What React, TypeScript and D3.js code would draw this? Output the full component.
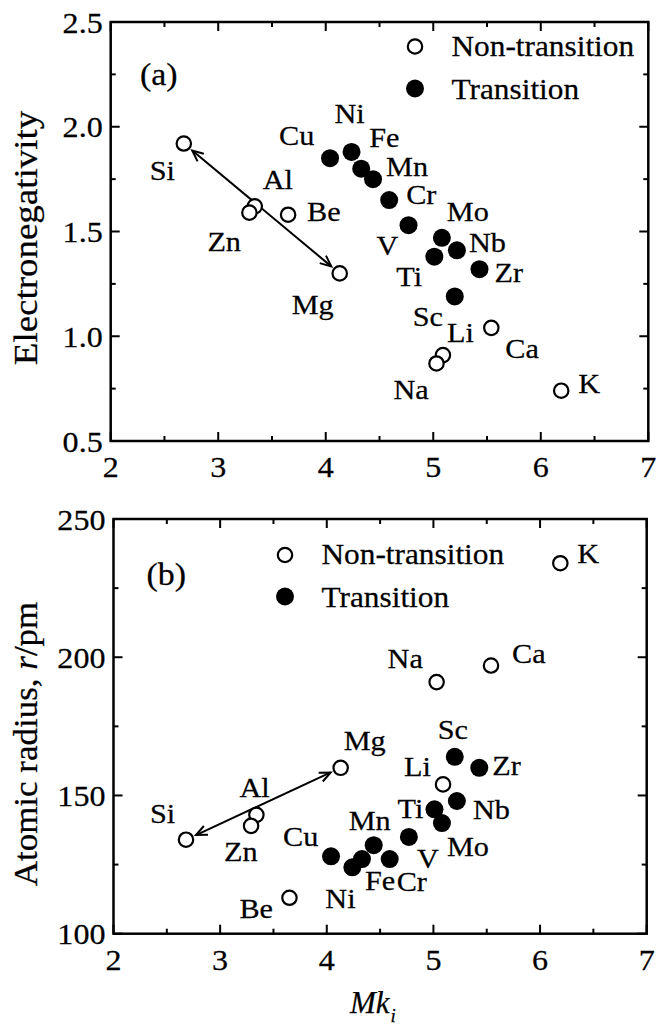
import React from 'react';
import * as d3 from 'd3';

// Element data: Mk_i, Pauling-type electronegativity and atomic radius (pm)
const elements = ['Si', 'Al', 'Zn', 'Be', 'Mg', 'Li', 'Na', 'K', 'Ca', 'Cu', 'Ni', 'Fe', 'Mn', 'Cr', 'V', 'Mo', 'Nb', 'Ti', 'Zr', 'Sc'];
const transition = [false, false, false, false, false, false, false, false, false, true, true, true, true, true, true, true, true, true, true, true];
const mk = [2.68, 3.34, 3.29, 3.65, 4.13, 5.09, 5.03, 6.19, 5.54, 4.04, 4.24, 4.33, 4.44, 4.59, 4.77, 5.08, 5.22, 5.01, 5.43, 5.20];
const electronegativity = [1.92, 1.62, 1.59, 1.58, 1.30, 0.91, 0.87, 0.74, 1.04, 1.85, 1.88, 1.80, 1.75, 1.65, 1.53, 1.47, 1.41, 1.38, 1.32, 1.19];
const atomicRadius = [134, 143, 139, 113, 160, 154, 191, 234, 197, 128, 124, 127, 132, 127, 135, 140, 148, 145, 160, 164];

const xTicks = [2, 3, 4, 5, 6, 7];
const enTicks = [0.5, 1.0, 1.5, 2.0, 2.5];
const radiusTicks = [100, 150, 200, 250];
const legendLabels = ['Non-transition', 'Transition'];

// label offsets (px) from each marker, per panel
const enLabelOffset: Record<string, [number, number]> = {
  Si: [-34, 36], Al: [8, -17], Zn: [-42, 38], Be: [19, 6], Mg: [-48, 41],
  Li: [4, -13], Na: [-43, 36], K: [17, 2], Ca: [14, 30], Cu: [-51, -13],
  Ni: [-17, -29], Fe: [8, -22], Mn: [13, -3], Cr: [17, 4], V: [-32, 30],
  Mo: [5, -17], Nb: [12, 2], Ti: [-38, 29], Zr: [15, 13], Sc: [-42, 30],
};
const radiusLabelOffset: Record<string, [number, number]> = {
  Si: [-36, -17], Al: [-17, -18], Zn: [-27, 35], Be: [-50, 20], Mg: [3, -18],
  Li: [-39, -8], Na: [-49, -14], K: [17, 0], Ca: [21, -3], Cu: [-48, -10],
  Ni: [-27, 41], Fe: [3, 31], Mn: [-25, -15], Cr: [7, 32], V: [8, 31],
  Mo: [5, 33], Nb: [16, 18], Ti: [-37, 9], Zr: [13, 7], Sc: [-17, -18],
};

const FONT = '"Liberation Serif", "Times New Roman", serif';
const SX = 1.08;

function T({ x, y, children, size = 29, anchor = 'start', rotate = 0, sx = SX }: any) {
  return (
    <text
      transform={`translate(${x},${y}) rotate(${rotate}) scale(${sx},1)`}
      fontFamily={FONT}
      fontSize={size}
      textAnchor={anchor}
      fill="#000"
      stroke="#000"
      strokeWidth={0.25}
    >
      {children}
    </text>
  );
}

function Arrow({ x1, y1, x2, y2 }: any) {
  const dx = x2 - x1;
  const dy = y2 - y1;
  const len = Math.hypot(dx, dy);
  const ux = dx / len;
  const uy = dy / len;
  const gap = 11;
  const ax = x1 + ux * gap, ay = y1 + uy * gap;
  const bx = x2 - ux * gap, by = y2 - uy * gap;
  const head = (tx: number, ty: number, dirx: number, diry: number) => {
    const L = 12, a = (24 * Math.PI) / 180;
    const ang = Math.atan2(diry, dirx);
    const p1 = [tx - L * Math.cos(ang - a), ty - L * Math.sin(ang - a)];
    const p2 = [tx - L * Math.cos(ang + a), ty - L * Math.sin(ang + a)];
    return `M${p1[0]},${p1[1]}L${tx},${ty}L${p2[0]},${p2[1]}`;
  };
  return (
    <g fill="none" stroke="#000" strokeWidth={2}>
      <line x1={ax} y1={ay} x2={bx} y2={by} />
      <path d={head(ax, ay, -ux, -uy)} />
      <path d={head(bx, by, ux, uy)} />
    </g>
  );
}

function Panel({ box, yDomain, yTicks, yMinor, yFmt, values, offsets, tag, legend, yTitle }: any) {
  const x = d3.scaleLinear().domain([2, 7]).range([box.left, box.right]);
  const y = d3.scaleLinear().domain(yDomain).range([box.bottom, box.top]);
  const xMinor = d3.range(2.5, 7, 1);
  const major = 9, minor = 5;
  const iSi = elements.indexOf('Si');
  const iMg = elements.indexOf('Mg');
  return (
    <g>
      {/* frame */}
      <rect x={box.left} y={box.top} width={box.right - box.left} height={box.bottom - box.top}
        fill="none" stroke="#000" strokeWidth={2.5} />
      {/* ticks on all four sides, pointing inward */}
      <g stroke="#000" strokeWidth={2}>
        {xTicks.map((t) => (
          <g key={'xt' + t}>
            <line x1={x(t)} x2={x(t)} y1={box.bottom} y2={box.bottom - major} />
            <line x1={x(t)} x2={x(t)} y1={box.top} y2={box.top + major} />
          </g>
        ))}
        {xMinor.map((t) => (
          <g key={'xm' + t}>
            <line x1={x(t)} x2={x(t)} y1={box.bottom} y2={box.bottom - minor} />
            <line x1={x(t)} x2={x(t)} y1={box.top} y2={box.top + minor} />
          </g>
        ))}
        {yTicks.map((t: number) => (
          <g key={'yt' + t}>
            <line x1={box.left} x2={box.left + major} y1={y(t)} y2={y(t)} />
            <line x1={box.right} x2={box.right - major} y1={y(t)} y2={y(t)} />
          </g>
        ))}
        {yMinor.map((t: number) => (
          <g key={'ym' + t}>
            <line x1={box.left} x2={box.left + minor} y1={y(t)} y2={y(t)} />
            <line x1={box.right} x2={box.right - minor} y1={y(t)} y2={y(t)} />
          </g>
        ))}
      </g>
      {/* tick labels */}
      {xTicks.map((t) => (
        <T key={'xl' + t} x={x(t)} y={box.bottom + 36} size={30} sx={1.07} anchor="middle">{t}</T>
      ))}
      {yTicks.map((t: number) => (
        <T key={'yl' + t} x={box.left - 8} y={y(t) + 10.5} size={30} sx={1.07} anchor="end">{yFmt(t)}</T>
      ))}
      {/* axis title */}
      <T x={37} y={yTitle.cy} size={33} anchor="middle" rotate={-90} sx={yTitle.sx}>{yTitle.content}</T>
      {/* panel tag */}
      <T x={tag.x} y={tag.y} size={32} sx={1.06}>{tag.text}</T>
      {/* legend */}
      <circle cx={legend.x} cy={legend.y1} r={7.2} fill="#fff" stroke="#000" strokeWidth={2.2} />
      <circle cx={legend.x} cy={legend.y2} r={9} fill="#000" />
      <T x={legend.tx} y={legend.y1 + 9} size={29}>{legendLabels[0]}</T>
      <T x={legend.tx} y={legend.y2 + 10} size={29}>{legendLabels[1]}</T>
      {/* Si -> Mg arrow */}
      <Arrow x1={x(mk[iSi])} y1={y(values[iSi])} x2={x(mk[iMg])} y2={y(values[iMg])} />
      {/* markers */}
      {elements.map((el, i) =>
        transition[i] ? (
          <circle key={el} cx={x(mk[i])} cy={y(values[i])} r={9} fill="#000" />
        ) : (
          <circle key={el} cx={x(mk[i])} cy={y(values[i])} r={7.2} fill="#fff" stroke="#000" strokeWidth={2.2} />
        )
      )}
      {/* element labels */}
      {elements.map((el, i) => (
        <T key={'lab' + el} x={x(mk[i]) + offsets[el][0]} y={y(values[i]) + offsets[el][1]} size={28}>{el}</T>
      ))}
    </g>
  );
}

export default function App() {
  return (
    <svg width={656} height={1026} style={{ position: 'absolute', left: 0, top: 0, background: '#fff' }}>
      <rect width={656} height={1026} fill="#fff" />
      <Panel
        box={{ left: 110.7, right: 648.3, top: 22, bottom: 441 }}
        yDomain={[0.5, 2.5]}
        yTicks={enTicks}
        yMinor={[0.75, 1.25, 1.75, 2.25]}
        yFmt={(v: number) => v.toFixed(1)}
        values={electronegativity}
        offsets={enLabelOffset}
        tag={{ x: 140, y: 85, text: '(a)' }}
        legend={{ x: 415, y1: 46.5, y2: 88.5, tx: 451.5 }}
        yTitle={{ cy: 238, content: 'Electronegativity', sx: 1.12 }}
      />
      <Panel
        box={{ left: 113.5, right: 646.7, top: 519, bottom: 933.7 }}
        yDomain={[100, 250]}
        yTicks={radiusTicks}
        yMinor={[125, 175, 225]}
        yFmt={(v: number) => String(v)}
        values={atomicRadius}
        offsets={radiusLabelOffset}
        tag={{ x: 146.5, y: 585, text: '(b)' }}
        legend={{ x: 285, y1: 555, y2: 596.5, tx: 321.5 }}
        yTitle={{
          cy: 744,
          sx: 1.06,
          content: (
            <>
              Atomic radius, <tspan fontStyle="italic">r</tspan>/pm
            </>
          ),
        }}
      />
      {/* x axis title */}
      <text x={350} y={1013} fontFamily={FONT} fontSize={31} fontStyle="italic" fill="#000" stroke="#000" strokeWidth={0.25}>
        Mk
        <tspan fontSize={19} dx={1} dy={9}>i</tspan>
      </text>
    </svg>
  );
}
